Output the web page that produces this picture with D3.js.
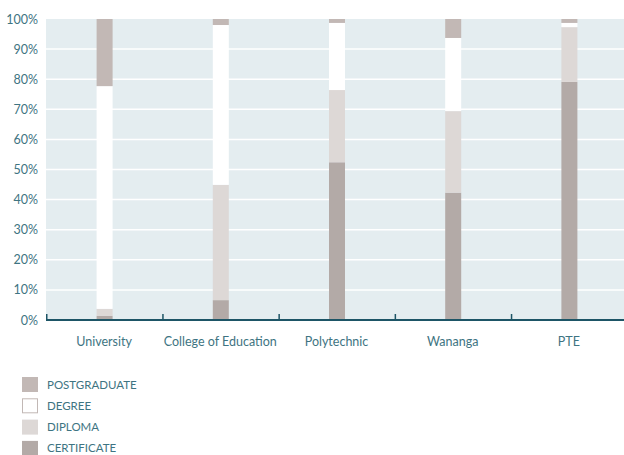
<!DOCTYPE html>
<html>
<head>
<meta charset="utf-8">
<script src="https://cdn.jsdelivr.net/npm/d3@7"></script>
<style>
  html, body { margin: 0; padding: 0; background: #ffffff; }
  svg { display: block; }
  text { font-family: Lato, "Noto Sans", sans-serif; fill: #3e7482; }
</style>
</head>
<body>
<svg id="chart" width="624" height="455"></svg>
<script>
// Share of students by qualification level, per provider type (%)
const categories = ["University", "College of Education", "Polytechnic", "Wananga", "PTE"];
const certificate  = [1.4, 6.6, 52.4, 42.3, 79.1];
const diploma      = [2.3, 38.3, 24.0, 27.1, 18.2];
const degree       = [74.0, 53.1, 22.3, 24.3, 1.4];
const postgraduate = [22.3, 2.0, 1.3, 6.3, 1.3];
const yTicks = [0, 10, 20, 30, 40, 50, 60, 70, 80, 90, 100];

const seriesKeys = ["certificate", "diploma", "degree", "postgraduate"];
const seriesNames = { certificate: "CERTIFICATE", diploma: "DIPLOMA", degree: "DEGREE", postgraduate: "POSTGRADUATE" };
const colors = { certificate: "#b3aaa7", diploma: "#ddd8d6", degree: "#ffffff", postgraduate: "#c2b8b5" };

const rows = categories.map((c, i) => ({
  category: c,
  certificate: certificate[i],
  diploma: diploma[i],
  degree: degree[i],
  postgraduate: postgraduate[i]
}));

const svg = d3.select("#chart");
const margin = { left: 46, top: 19, right: -3, bottom: 135 };
const W = 624, H = 455;
const plotW = W - margin.left - margin.right;
const plotH = H - margin.top - margin.bottom;

const x = d3.scaleBand().domain(categories).range([margin.left, margin.left + plotW]).paddingInner(0).paddingOuter(0);
const y = d3.scaleLinear().domain([0, 100]).range([margin.top + plotH, margin.top]);

// plot background
svg.append("rect")
  .attr("x", margin.left).attr("y", margin.top)
  .attr("width", plotW).attr("height", plotH)
  .attr("fill", "#e4edf0");

// horizontal gridlines
svg.append("g")
  .selectAll("line")
  .data(yTicks.filter(t => t > 0 && t < 100))
  .join("line")
  .attr("x1", margin.left).attr("x2", margin.left + plotW)
  .attr("y1", d => y(d)).attr("y2", d => y(d))
  .attr("stroke", "#ffffff").attr("stroke-width", 1.5);

// stacked bars
const stack = d3.stack().keys(seriesKeys);
const layers = stack(rows);
const barW = 16;

svg.append("g")
  .selectAll("g")
  .data(layers)
  .join("g")
  .attr("fill", d => colors[d.key])
  .selectAll("rect")
  .data(d => d)
  .join("rect")
  .attr("x", d => x(d.data.category) + x.bandwidth() / 2 - barW / 2 + 0.5)
  .attr("width", barW)
  .attr("y", d => y(Math.min(100, d[1])))
  .attr("height", d => y(d[0]) - y(Math.min(100, d[1])));

// y axis labels
const yAxis = d3.axisLeft(y).tickValues(yTicks).tickFormat(d => d + "%").tickSize(0).tickPadding(8);
const gy = svg.append("g").attr("transform", `translate(${margin.left},0)`).call(yAxis);
gy.select(".domain").remove();
gy.selectAll("text").attr("font-size", 12.5).attr("font-family", "Lato, 'Noto Sans', sans-serif").attr("fill", "#3e7482");

// x axis: baseline with upward ticks at band boundaries
const baseY = y(0);
svg.append("line")
  .attr("x1", margin.left).attr("x2", margin.left + plotW)
  .attr("y1", baseY).attr("y2", baseY)
  .attr("stroke", "#1d5566").attr("stroke-width", 2);

svg.append("g")
  .selectAll("line")
  .data(categories)
  .join("line")
  .attr("x1", d => x(d) + 0.75).attr("x2", d => x(d) + 0.75)
  .attr("y1", baseY).attr("y2", baseY - 6)
  .attr("stroke", "#1d5566").attr("stroke-width", 1.5);

svg.append("g")
  .selectAll("text")
  .data(categories)
  .join("text")
  .attr("x", d => x(d) + x.bandwidth() / 2)
  .attr("y", baseY + 26)
  .attr("text-anchor", "middle")
  .attr("font-size", 12.5)
  .text(d => d);

// legend
const legendOrder = ["postgraduate", "degree", "diploma", "certificate"];
const lg = svg.append("g");
legendOrder.forEach((k, i) => {
  const ly = 377 + i * 21.3;
  lg.append("rect")
    .attr("x", k === "degree" ? 22.5 : 22).attr("y", k === "degree" ? ly + 0.5 : ly)
    .attr("width", k === "degree" ? 15 : 16).attr("height", k === "degree" ? 14 : 15)
    .attr("fill", colors[k])
    .attr("stroke", k === "degree" ? "#c2b8b5" : "none")
    .attr("stroke-width", 1);
  lg.append("text")
    .attr("x", 47).attr("y", ly + 7.5)
    .attr("dy", "0.35em")
    .attr("font-size", 11.5)
    .text(seriesNames[k]);
});
</script>
</body>
</html>
